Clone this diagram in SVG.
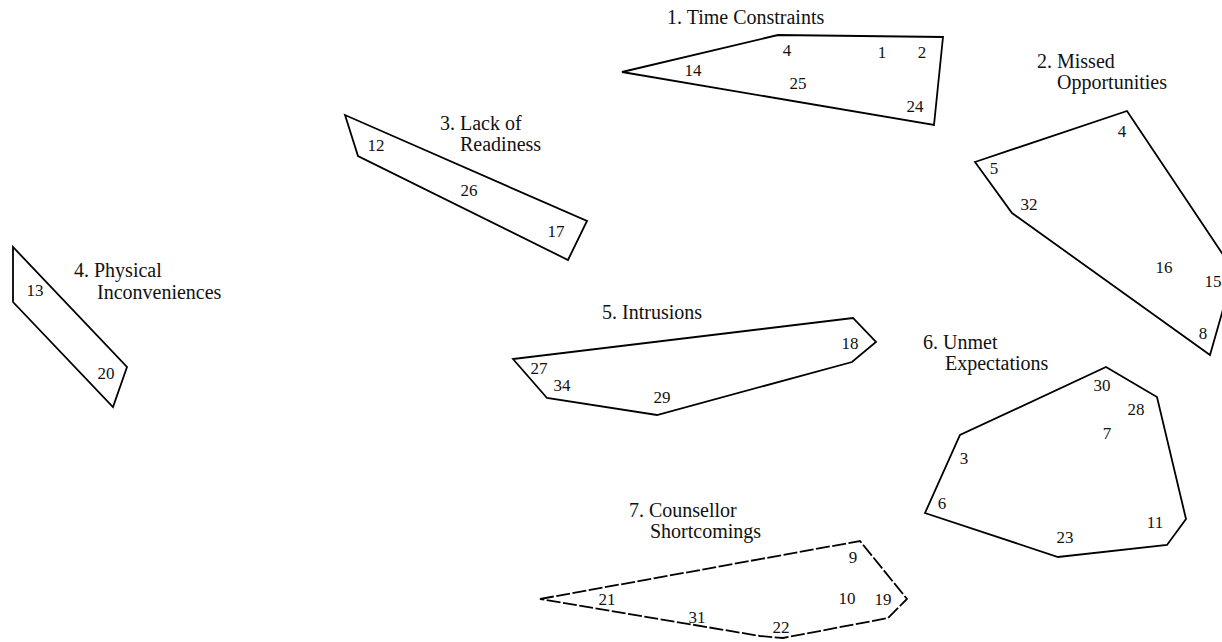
<svg xmlns="http://www.w3.org/2000/svg" width="1222" height="642" viewBox="0 0 1222 642">
<style>
.bg{fill:#ffffff}
.hull{fill:none;stroke:#000;stroke-width:1.8;stroke-linejoin:miter}
.dash{stroke-dasharray:14 2.5}
.title{font-family:"Liberation Serif","Times New Roman",serif;font-size:20px;fill:#111}
.num{font-family:"Liberation Serif","Times New Roman",serif;font-size:17px;fill:#111;text-anchor:middle}
</style>
<rect class="bg" x="0" y="0" width="1222" height="642"/>
<g id="connectors"></g>
<g id="cluster1">
<polygon class="hull" points="622,72 778,35 943,37 934,125"/>
<text class="title" x="667" y="24">1. Time Constraints</text>
<text class="num" x="787" y="56">4</text>
<text class="num" x="882" y="58">1</text>
<text class="num" x="922" y="58">2</text>
<text class="num" x="693" y="76">14</text>
<text class="num" x="798" y="89">25</text>
<text class="num" x="915" y="112">24</text>
</g>
<g id="cluster2">
<polygon class="hull" points="975,162 1127,111 1234,271 1210,355 1012,213"/>
<text class="title" x="1037" y="68">2. Missed</text>
<text class="title" x="1057" y="89">Opportunities</text>
<text class="num" x="1122" y="137">4</text>
<text class="num" x="994" y="174">5</text>
<text class="num" x="1029" y="210">32</text>
<text class="num" x="1164" y="273">16</text>
<text class="num" x="1213" y="287">15</text>
<text class="num" x="1203" y="339">8</text>
</g>
<g id="cluster3">
<polygon class="hull" points="345,115 358,156 568,260 587,221"/>
<text class="title" x="440" y="130">3. Lack of</text>
<text class="title" x="460" y="151">Readiness</text>
<text class="num" x="376" y="151">12</text>
<text class="num" x="469" y="196">26</text>
<text class="num" x="556" y="237">17</text>
</g>
<g id="cluster4">
<polygon class="hull" points="13,247 13,302 113,407 127,367"/>
<text class="title" x="74" y="277">4. Physical</text>
<text class="title" x="97" y="299">Inconveniences</text>
<text class="num" x="35" y="296">13</text>
<text class="num" x="106" y="379">20</text>
</g>
<g id="cluster5">
<polygon class="hull" points="513,359 547,398 657,415 852,362 876,342 853,318"/>
<text class="title" x="602" y="319">5. Intrusions</text>
<text class="num" x="539" y="374">27</text>
<text class="num" x="562" y="391">34</text>
<text class="num" x="662" y="403">29</text>
<text class="num" x="850" y="349">18</text>
</g>
<g id="cluster6">
<polygon class="hull" points="925,513 960,435 1106,367 1157,397 1186,519 1167,545 1058,557"/>
<text class="title" x="923" y="349">6. Unmet</text>
<text class="title" x="945" y="370">Expectations</text>
<text class="num" x="1102" y="391">30</text>
<text class="num" x="1136" y="415">28</text>
<text class="num" x="1107" y="439">7</text>
<text class="num" x="964" y="464">3</text>
<text class="num" x="942" y="509">6</text>
<text class="num" x="1065" y="543">23</text>
<text class="num" x="1155" y="528">11</text>
</g>
<g id="cluster7">
<polygon class="hull dash" points="540,599 860,541 907,599 888,618 783,638 760,636"/>
<text class="title" x="629" y="517">7. Counsellor</text>
<text class="title" x="650" y="538">Shortcomings</text>
<text class="num" x="853" y="563">9</text>
<text class="num" x="847" y="604">10</text>
<text class="num" x="883" y="605">19</text>
<text class="num" x="607" y="605">21</text>
<text class="num" x="697" y="623">31</text>
<text class="num" x="781" y="633">22</text>
</g>
</svg>
